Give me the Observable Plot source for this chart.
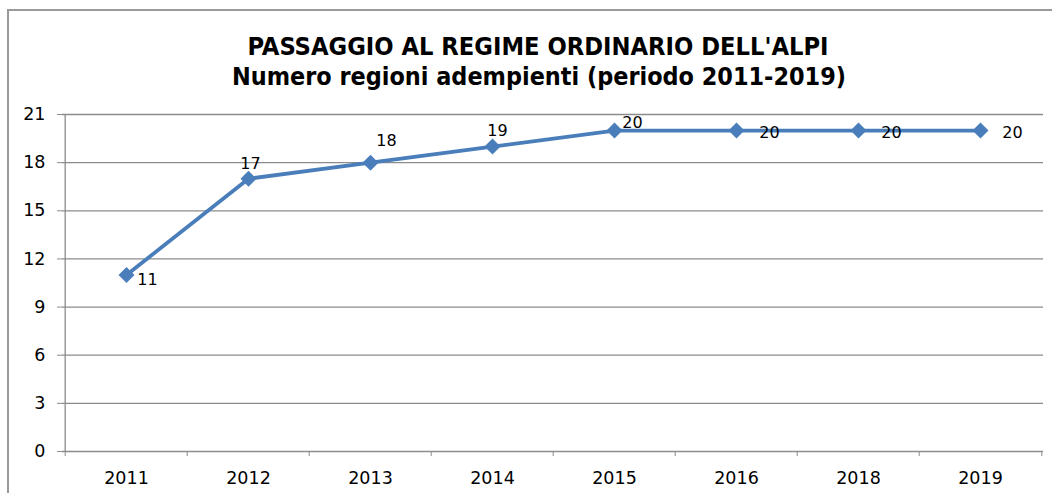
<!DOCTYPE html>
<html>
<head>
<meta charset="utf-8">
<script src="https://cdn.jsdelivr.net/npm/d3@7"></script>
<script src="https://cdn.jsdelivr.net/npm/@observablehq/plot@0.6"></script>
<style>
  html, body { margin: 0; padding: 0; background: #fff; }
  #page { position: relative; width: 1052px; height: 493px; overflow: hidden; font-family: "DejaVu Sans", sans-serif; }
  #frame { position: absolute; left: 7px; top: 9px; width: 1100px; height: 600px; border-left: 2px solid #9a9a9a; border-top: 2px solid #9a9a9a; }
  #title { position: absolute; left: 0; top: 0; }
  #chart { position: absolute; left: 0; top: 95px; }
</style>
</head>
<body>
<div id="page">
  <div id="frame"></div>
  <svg id="title" width="1052" height="100">
    <text x="538" y="55" text-anchor="middle" textLength="581" lengthAdjust="spacingAndGlyphs"
      font-family="'DejaVu Sans Condensed', 'DejaVu Sans', sans-serif" font-weight="bold" font-size="25" fill="#000">PASSAGGIO AL REGIME ORDINARIO DELL'ALPI</text>
    <text x="539" y="85" text-anchor="middle" textLength="614" lengthAdjust="spacingAndGlyphs"
      font-family="'DejaVu Sans Condensed', 'DejaVu Sans', sans-serif" font-weight="bold" font-size="25" fill="#000">Numero regioni adempienti (periodo 2011-2019)</text>
  </svg>
  <div id="chart"></div>
</div>
<script>
// ---- data ----
const years = ["2011", "2012", "2013", "2014", "2015", "2016", "2018", "2019"];
const regions = [11, 17, 18, 19, 20, 20, 20, 20];
const yTicks = [0, 3, 6, 9, 12, 15, 18, 21];

// ---- styling (label offsets in px, per point) ----
const labelOffsets = [
  {dx: 21, dy: 5}, {dx: 2, dy: -15}, {dx: 16, dy: -22}, {dx: 5, dy: -16},
  {dx: 18, dy: -8}, {dx: 33, dy: 2}, {dx: 33, dy: 2}, {dx: 32, dy: 2}
];

const data = years.map((y, i) => ({year: y, value: regions[i]}));

const W = 1052, H = 398, ML = 62, MR = 9, MT = 19, MB = 42;
const bw = (W - ML - MR) / years.length;
const blue = "#4a7ebb";
const grey = "#8c8c8c";

const labelMarks = data.map((d, i) =>
  Plot.text([d], {x: "year", y: "value", text: d => String(d.value),
    dx: labelOffsets[i].dx, dy: labelOffsets[i].dy,
    fontSize: 16, fill: "#000", fontFamily: "DejaVu Sans"})
);

const chart = Plot.plot({
  width: W, height: H,
  marginLeft: ML, marginRight: MR, marginTop: MT, marginBottom: MB,
  style: {fontFamily: "DejaVu Sans", fontSize: "16px", color: "#000", background: "transparent"},
  x: {type: "band", domain: years, padding: 0, label: null},
  y: {domain: [0, 21], label: null},
  marks: [
    Plot.gridY(yTicks, {stroke: grey, strokeOpacity: 1, strokeWidth: 1.3}),
    Plot.ruleX([years[0]], {dx: -bw / 2, stroke: grey, strokeWidth: 1.3}),
    Plot.axisY(yTicks, {tickSize: 5, tickPadding: 12, stroke: grey, fill: "#000", fontSize: 17.5, tickFormat: d => String(d)}),
    Plot.axisX(years, {tickSize: 5, dx: -bw / 2, stroke: grey, tickFormat: () => ""}),
    Plot.axisX([years[years.length - 1]], {tickSize: 5, dx: bw / 2, stroke: grey, tickFormat: () => ""}),
    Plot.axisX(years, {tickSize: 0, tickPadding: 20, fill: "#000", fontSize: 17.5}),
    Plot.line(data, {x: "year", y: "value", stroke: blue, strokeWidth: 3.8}),
    Plot.dot(data, {x: "year", y: "value", symbol: "diamond2", r: 7.2, fill: blue, stroke: "none"}),
    ...labelMarks
  ]
});
d3.select(chart).selectAll('g[aria-label="y-axis tick label"], g[aria-label="x-axis tick label"]')
  .style("font-size", "17.5px").selectAll("text").style("font-size", "17.5px");
document.getElementById("chart").appendChild(chart);
</script>
</body>
</html>
